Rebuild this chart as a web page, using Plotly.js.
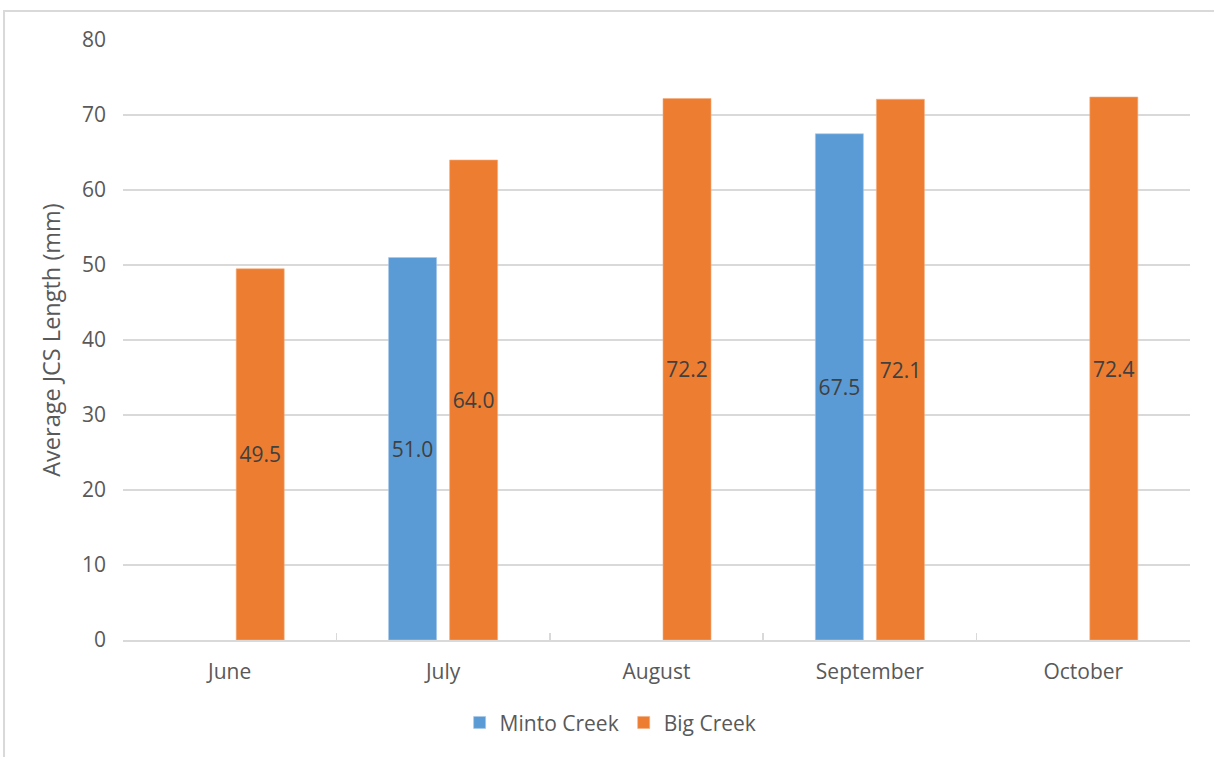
<!DOCTYPE html>
<html>
<head>
<meta charset="utf-8">
<script src="https://cdn.plot.ly/plotly-3.0.1.min.js"></script>
<style>
  html, body { margin: 0; padding: 0; background: #ffffff; }
  #chart { width: 1214px; height: 757px; }
</style>
</head>
<body>
<div id="chart"></div>
<script>
// Monthly average JCS length per creek
const months = ["June", "July", "August", "September", "October"];
const mintoCreek = [null, 51.0, null, 67.5, null];
const bigCreek = [49.5, 64.0, 72.2, 72.1, 72.4];
const yTicks = [0, 10, 20, 30, 40, 50, 60, 70, 80];

const fontFamily = "Open Sans, Lato, sans-serif";
const textGrey = "#595959";
const lineGrey = "#d9d9d9";

function labels(vals) {
  return vals.map(v => (v === null ? "" : v.toFixed(1)));
}

const traces = [
  {
    type: "bar",
    name: "Minto Creek",
    x: months,
    y: mintoCreek,
    text: labels(mintoCreek),
    textposition: "inside",
    insidetextanchor: "middle",
    constraintext: "none",
    textangle: 0,
    textfont: { family: fontFamily, size: 21, color: "#404040" },
    marker: { color: "#5b9bd5", line: { color: "#a9c8e8", width: 0.6 } },
    hoverinfo: "skip"
  },
  {
    type: "bar",
    name: "Big Creek",
    x: months,
    y: bigCreek,
    text: labels(bigCreek),
    textposition: "inside",
    insidetextanchor: "middle",
    constraintext: "none",
    textangle: 0,
    textfont: { family: fontFamily, size: 21, color: "#404040" },
    marker: { color: "#ed7d31", line: { color: "#f3ae80", width: 0.6 } },
    hoverinfo: "skip"
  }
];

const layout = {
  width: 1214,
  height: 757,
  margin: { l: 123, r: 24, t: 40, b: 117, pad: 0 },
  paper_bgcolor: "#ffffff",
  plot_bgcolor: "#ffffff",
  font: { family: fontFamily, size: 21, color: textGrey },
  barmode: "group",
  bargap: 0.428,
  bargroupgap: 0.213,
  showlegend: true,
  legend: {
    orientation: "h",
    x: 0.457,
    xanchor: "center",
    y: -0.138,
    yanchor: "middle",
    font: { family: fontFamily, size: 21, color: textGrey },
    bgcolor: "rgba(0,0,0,0)",
    itemclick: false,
    itemdoubleclick: false
  },
  xaxis: {
    type: "category",
    showgrid: false,
    showline: true,
    linecolor: lineGrey,
    linewidth: 1.5,
    ticks: "inside",
    tickson: "boundaries",
    ticklen: 7,
    tickcolor: lineGrey,
    tickwidth: 1.5,
    ticklabelstandoff: 12,
    tickfont: { family: fontFamily, size: 21, color: textGrey },
    zeroline: false,
    fixedrange: true
  },
  yaxis: {
    range: [0, 80],
    tickvals: yTicks,
    ticktext: yTicks.map(String),
    showgrid: true,
    gridcolor: lineGrey,
    gridwidth: 1.5,
    zeroline: false,
    showline: false,
    ticks: "",
    ticklabelstandoff: 16,
    tickfont: { family: fontFamily, size: 21, color: textGrey },
    title: {
      text: "Average JCS Length (mm)",
      font: { family: fontFamily, size: 23.5, color: textGrey },
      standoff: 14
    },
    fixedrange: true
  },
  shapes: [
    {
      type: "rect",
      xref: "paper",
      yref: "paper",
      x0: -0.1115,
      x1: 1.2,
      y0: -0.4,
      y1: 1.0483,
      line: { color: lineGrey, width: 2 },
      fillcolor: "rgba(0,0,0,0)",
      layer: "below"
    }
  ]
};

Plotly.newPlot("chart", traces, layout, { displayModeBar: false, staticPlot: true });
</script>
</body>
</html>
